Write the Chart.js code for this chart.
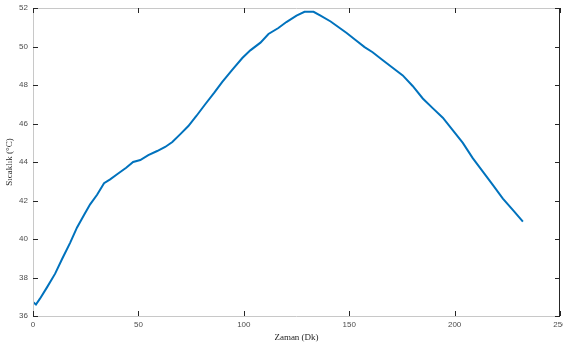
<!DOCTYPE html>
<html>
<head>
<meta charset="utf-8">
<script src="https://cdn.jsdelivr.net/npm/chart.js@4.4.0/dist/chart.umd.min.js"></script>
<style>
  html, body { margin: 0; padding: 0; background: #fff; }
  #wrap { width: 563px; height: 349px; }
</style>
</head>
<body>
<div id="wrap"><canvas id="tempChart"></canvas></div>
<script>
// time (minutes) and temperature (°C)
const timeMin = [0, 1.4, 3.3, 6.7, 10.5, 13.8, 17.6, 20.9, 24.2, 27.1, 30.4, 33.7, 36.6, 40.4, 44.2, 47.5,
  50.9, 54.7, 58.9, 62.7, 66.1, 69.9, 73.7, 77.5, 81.7, 86.0, 89.8, 94.6, 99.3, 103.1, 107.9, 111.7,
  116.4, 120.2, 125, 128.8, 133.1, 136.4, 141.2, 145, 148.8, 153, 157.3, 161.1, 165.8, 170.6, 175.4,
  180.1, 184.9, 189.6, 194.4, 199.1, 203.9, 208.6, 213.4, 218.2, 222.9, 227.7, 232.4];
const tempC = [36.73, 36.6, 36.9, 37.5, 38.2, 38.96, 39.8, 40.6, 41.25, 41.8, 42.3, 42.9, 43.1, 43.4, 43.7, 44.0,
  44.1, 44.36, 44.57, 44.78, 45.04, 45.45, 45.87, 46.39, 47.0, 47.6, 48.16, 48.8, 49.4, 49.8, 50.2, 50.65,
  50.96, 51.27, 51.6, 51.8, 51.8, 51.6, 51.3, 51.0, 50.7, 50.34, 49.97, 49.7, 49.3, 48.9, 48.5,
  47.95, 47.3, 46.8, 46.3, 45.66, 44.99, 44.2, 43.5, 42.8, 42.1, 41.5, 40.9];
const xTicks = [0, 50, 100, 150, 200, 250];
const yTicks = [36, 38, 40, 42, 44, 46, 48, 50, 52];

const points = timeMin.map((t, i) => ({ x: t, y: tempC[i] }));

// matlab-style box with inward ticks
const boxPlugin = {
    id: 'box',
    afterDraw(chart) {
        const ctx = chart.ctx;
        const a = chart.chartArea;
        const xs = chart.scales.x, ys = chart.scales.y;
        ctx.save();
        ctx.lineWidth = 1;
        // light axis lines (left, bottom, top)
        ctx.strokeStyle = '#c8c8c8';
        ctx.beginPath();
        ctx.moveTo(a.left + 0.5, a.top); ctx.lineTo(a.left + 0.5, a.bottom);
        ctx.moveTo(a.left, a.bottom + 0.5); ctx.lineTo(a.right, a.bottom + 0.5);
        ctx.moveTo(a.left, a.top + 0.5); ctx.lineTo(a.right, a.top + 0.5);
        ctx.stroke();
        // right edge darker
        ctx.strokeStyle = '#262626';
        ctx.beginPath();
        ctx.moveTo(a.right - 0.5, a.top); ctx.lineTo(a.right - 0.5, a.bottom + 1);
        ctx.stroke();
        // ticks
        ctx.strokeStyle = '#262626';
        ctx.beginPath();
        xTicks.forEach(v => {
            const px = Math.round(xs.getPixelForValue(v)) + 0.5;
            ctx.moveTo(px, a.bottom); ctx.lineTo(px, a.bottom - 5);
            ctx.moveTo(px, a.top); ctx.lineTo(px, a.top + 5);
        });
        yTicks.forEach(v => {
            const py = Math.round(ys.getPixelForValue(v)) + 0.5;
            ctx.moveTo(a.left, py); ctx.lineTo(a.left + 5, py);
            ctx.moveTo(a.right, py); ctx.lineTo(a.right - 5, py);
        });
        ctx.stroke();
        ctx.restore();
    }
};

new Chart(document.getElementById('tempChart'), {
    type: 'line',
    data: {
        datasets: [{
            data: points,
            borderColor: '#0072BD',
            borderWidth: 2,
            pointRadius: 0,
            tension: 0,
            fill: false
        }]
    },
    options: {
        responsive: true,
        maintainAspectRatio: false,
        animation: false,
        layout: { padding: { top: 8, right: 3, left: 0, bottom: 0 } },
        plugins: {
            legend: { display: false },
            tooltip: { enabled: false }
        },
        scales: {
            x: {
                type: 'linear',
                min: 0,
                max: 250,
                afterBuildTicks: s => { s.ticks = xTicks.map(v => ({ value: v })); },
                afterFit: s => { s.height = 33; s.paddingLeft = 0; s.paddingRight = 0; },
                grid: { display: false, drawTicks: false },
                border: { display: false },
                ticks: { color: '#4d4d4d', padding: 4, maxRotation: 0, font: { family: 'Liberation Sans', size: 8 } },
                title: {
                    display: true,
                    text: 'Zaman (Dk)',
                    color: '#262626',
                    padding: { top: 2, bottom: 6 },
                    font: { family: 'Liberation Serif', size: 9 }
                }
            },
            y: {
                min: 36,
                max: 52,
                afterBuildTicks: s => { s.ticks = yTicks.map(v => ({ value: v })); },
                afterFit: s => { s.width = 33; s.paddingTop = 0; s.paddingBottom = 0; },
                grid: { display: false, drawTicks: false },
                border: { display: false },
                ticks: { color: '#4d4d4d', padding: 5, font: { family: 'Liberation Sans', size: 8 } },
                title: {
                    display: true,
                    text: 'Sıcaklık (°C)',
                    color: '#262626',
                    padding: { top: 4, bottom: 0 },
                    font: { family: 'Liberation Serif', size: 9 }
                }
            }
        }
    },
    plugins: [boxPlugin]
});
</script>
</body>
</html>
